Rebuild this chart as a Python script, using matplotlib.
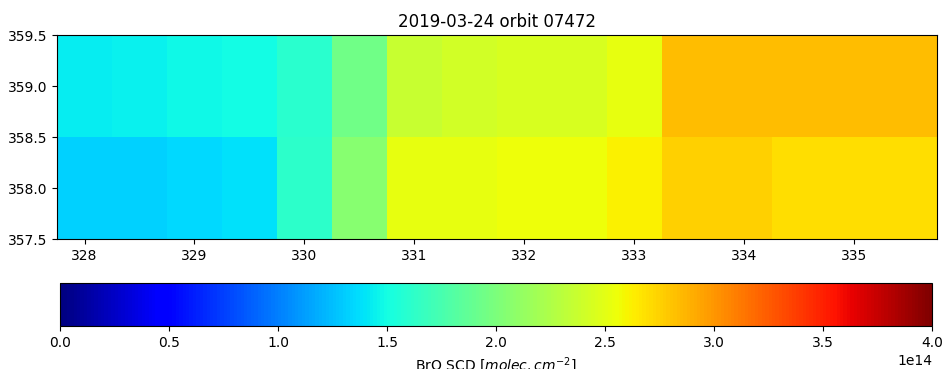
import numpy as np
import matplotlib

matplotlib.use("Agg")

import matplotlib.pyplot as plt

# cell centres (longitude-like x, latitude-like y)
x_centres = [328.0, 328.5, 329.0, 329.5, 330.0, 330.5, 331.0, 331.5,
             332.0, 332.5, 333.0, 333.5, 334.0, 334.5, 335.0, 335.5]
y_centres = [358.0, 359.0]

# BrO SCD in units of 1e14 molec/cm^2
row_358 = [1.32, 1.32, 1.35, 1.39, 1.61, 2.06, 2.52, 2.52,
           2.55, 2.55, 2.62, 2.76, 2.75, 2.69, 2.69, 2.69]
row_359 = [1.43, 1.45, 1.47, 1.49, 1.60, 1.94, 2.36, 2.41,
           2.45, 2.45, 2.53, 2.83, 2.83, 2.83, 2.83, 2.83]

x_ticks = [328, 329, 330, 331, 332, 333, 334, 335]
y_ticks = [357.5, 358.0, 358.5, 359.0, 359.5]
cbar_ticks = [0.0, 0.5, 1.0, 1.5, 2.0, 2.5, 3.0, 3.5, 4.0]

scale = 1e14
scd = np.array([row_358, row_359]) * scale

fig = plt.figure(figsize=(9.44, 3.69), dpi=100)
ax = fig.add_axes([0.0604, 0.3523, 0.932, 0.5528])
mesh = ax.pcolormesh(x_centres, y_centres, scd, cmap="jet",
                     vmin=0, vmax=4 * scale, shading="nearest")
ax.set_xlim(327.75, 335.75)
ax.set_ylim(357.5, 359.5)
ax.set_xticks(x_ticks)
ax.set_yticks(y_ticks)
ax.set_yticklabels([f"{v:.1f}" for v in y_ticks])
ax.set_title("2019-03-24 orbit 07472")

cax = fig.add_axes([0.0636, 0.1165, 0.9237, 0.1165])
cbar = fig.colorbar(mesh, cax=cax, orientation="horizontal")
cbar.set_ticks([t * scale for t in cbar_ticks])
cbar.set_label(r"BrO SCD [$molec. cm^{-2}$]")

plt.savefig("out.png", dpi=100)
